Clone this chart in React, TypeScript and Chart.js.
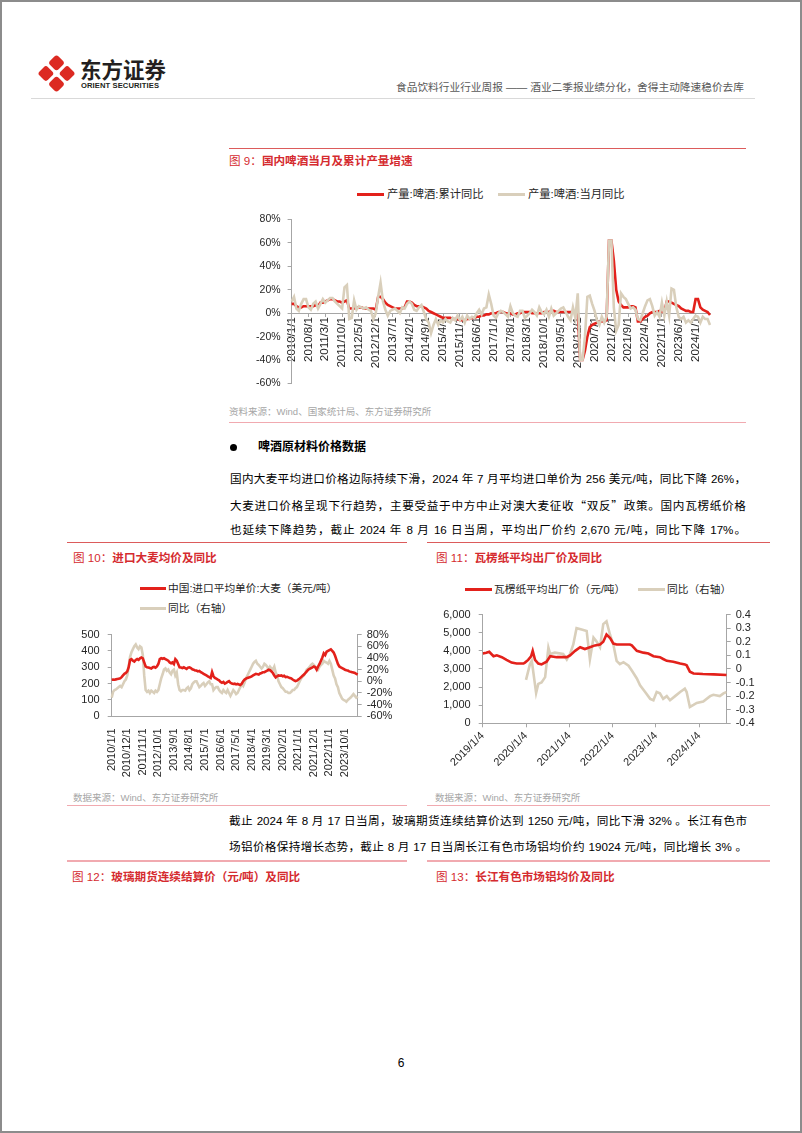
import React, { useEffect, useRef } from "react";
import { Chart, registerables } from "chart.js";
Chart.register(...registerables);

const RED = "#e3211b";
const BEIGE = "#d9cfbb";
const AXIS = "#a6a6a6";
const TITLE_RED = "#d52b2f";
const FONT = '"Liberation Sans", "Noto Sans CJK SC", sans-serif';

// ---------- category labels (monthly, 2010/1 .. 2024/7) ----------
const monthLabels: string[] = [];
for (let y = 2010; y <= 2024; y++) {
  for (let m = 1; m <= 12; m++) {
    if (y === 2024 && m > 7) break;
    monthLabels.push(`${y}/${m}/1`);
  }
}

// ---------- Fig 9: beer output yoy (%) ----------
const beerCumYoY = [
  8, 8, 6, 5, 5, 6, 6, 6, 6, 6, 7, 6,
  9, 9, 10, 11, 12, 12, 11, 10, 10, 9, 10, 11,
  4, 4, 4, 5, 5, 5, 4, 4, 4, 4, 4, 3,
  14, 14, 12, 9, 7, 6, 5, 4, 4, 4, 4, 5,
  10, 10, 9, 7, 6, 6, 6, 5, 4, 2, 1, 0,
  -1, -2, -3, -4, -4, -4, -4, -5, -5, -5, -6, -6,
  -6, -5, -5, -4, -4, -3, -3, -2, -2, -1, -1, 0,
  0, 0, 1, 1, 1, 0, 0, 0, -1, -1, 0, 0,
  1, 1, 1, 1, 0, 0, 0, 0, 0, 1, 1, 1,
  2, 2, 1, 1, 1, 1, 1, 1, 1, 1, 1, 1,
  -40, -40, -32, -20, -12, -10, -9, -8, -7, -7, -7, -6,
  62, 62, 45, 20, 10, 7, 5, 5, 5, 6, 6, 5,
  -7, -7, -5, -3, -2, 0, 1, 1, 1, 2, 1, 1,
  10, 10, 9, 8, 7, 6, 4, 3, 2, 2, 1, 1,
  12, 12, 5, 3, 2, 1, -1.5,
];
const beerMonthYoY = [
  10, 14, 4, 2, 8, 12, 12, 5, 3, 8, 10, 4,
  8, 12, 9, 11, 13, 13, 10, 8, 6, 4, 22, 24,
  -5, -4, 11, 3, 6, 5, 4, 5, 3, 2, -5, 0,
  14, 26, 10, 3, -2, 2, 3, 4, 2, 0, 5, 4,
  8, 10, 8, 3, 2, 5, 7, 1, -5, -8, -17, -10,
  -5, -10, -6, -8, -5, -7, -8, -4, -6, -2, -6, -3,
  -8, -2, -5, -3, -4, 0, 3, -1, 4, 5, 16, 8,
  -2, -4, 0, 2, 1, -1, -3, 6, 0, -2, -3, 2,
  2, -4, -2, 0, 3, 1, -2, 5, 1, -1, 3, -3,
  4, -2, 0, 2, 4, 5, 1, -3, -6, 5, -4, 17,
  -40, -40, -20, 14, 15, 8, 2, -6, -10, -3, -8, -3,
  62, 62, 5, -15, -10, 17, 14, 12, 8, 4, 5, 3,
  -5, -6, 0, 6, 11, 12, 6, -2, 1, -3, 9, -2,
  10, -2, 21, 20, 5, -3, -5, -3, -8, -6, -8, -5,
  -2, -3, -8, -3, -5, -5, -10,
];

// ---------- Fig 10: imported barley price (USD/t) & yoy (%) ----------
const barleyPrice = [
  224, 225, 224, 226, 228, 230, 232, 240, 250, 260, 265, 275,
  300, 345, 350, 340, 335, 345, 350, 345, 355, 360, 355, 330,
  305, 300, 298, 295, 292, 300, 302, 298, 305, 320, 350, 355,
  352, 355, 350, 345, 340, 330, 325, 330, 320, 350, 340, 320,
  300, 298, 295, 300, 295, 290, 298, 300, 295, 288, 285, 280,
  280, 275, 278, 270, 265, 260, 255, 250, 245, 240, 235, 270,
  245, 235, 230, 225, 220, 210, 205, 210, 200, 205, 210, 215,
  205, 200, 198, 200, 195, 198, 195, 192, 200, 215, 225, 230,
  235, 238, 240, 245, 250, 255, 260, 258, 255, 262, 265, 270,
  270, 275, 280, 285, 282, 275, 265, 250, 238, 245, 250, 248,
  250, 245, 248, 240, 242, 238, 235, 232, 225, 220, 215, 218,
  225, 232, 240, 248, 255, 265, 275, 285, 290, 295, 300, 305,
  300, 285, 305, 320, 340, 360, 385, 375, 395, 400, 405, 410,
  400, 390, 370, 345, 320, 305, 300, 295, 290, 285, 282, 280,
  275, 272, 270, 268, 265, 260, 256,
];
const barleyYoY = [
  -28, -18, -15, -14, -12, -10, -8, -10, -5, 0, 3, 10,
  25, 42, 50, 55, 60, 63, 58, 55, 60, 58, 45, 10,
  -15, -18, -16, -20, -16, -18, -20, -16, -18, -15, -5, 5,
  12, 20, 22, 18, 20, 15, 12, 18, 20, 10, 15, -5,
  -15, -17, -15, -15, -16, -12, -10, -15, -12, -5, -2, 0,
  0, -5, -10, -8, -5, -3, -8, -5, -2, 0, -5, -5,
  -15, -12, -10, -10, -15, -18, -20, -15, -18, -20, -15, -20,
  -25, -20, -15, -18, -22, -20, -15, -10, -5, -8, -2, 5,
  10, 15, 20, 25, 30, 33, 35, 30, 28, 25, 22, 25,
  30, 28, 25, 20, 25, 22, 20, 25, 15, 10, 0, -5,
  -10, -12, -15, -18, -18, -20, -20, -18, -15, -15, -12, -10,
  -5, 0, 5, 8, 10, 15, 20, 22, 25, 28, 30, 28,
  25, 22, 20, 25, 28, 30, 35, 33, 32, 30, 35, 30,
  20, 10, 5, -5, -10, -20, -25, -30, -32, -33, -35, -32,
  -30, -28, -25, -22, -25, -28, -26,
];

// ---------- Fig 11: corrugated paper price (CNY/t) & yoy ----------
// x = months after 2019/1/4
const paperX = [0, 1, 1.8, 3, 3.9, 5.3, 6.6, 8, 9.4, 11.3, 11.7, 12.6, 13.4, 13.85, 14.5, 15.4, 16.3, 17.7, 18.7, 20.5, 23.3, 24.2, 25.6, 27, 28.3, 29.7, 31.1, 32.5, 33.4, 34.3, 35.3, 36.2, 37.1, 40.8, 41.3, 42.7, 44.5, 45.9, 47.3, 49.1, 50, 51, 52.8, 54.7, 56, 56.5, 57.4, 58.4, 61, 64, 67.6];
const paperPrice = [3850, 3900, 3950, 3700, 3750, 3650, 3500, 3350, 3300, 3300, 3350, 3500, 3700, 4000, 3500, 3300, 3250, 3400, 3700, 3650, 3650, 3750, 4000, 4200, 4100, 4200, 4300, 4350, 4500, 4900, 4700, 4400, 4350, 4350, 4300, 4000, 3900, 3850, 3700, 3650, 3550, 3450, 3400, 3300, 3250, 3200, 2850, 2750, 2720, 2700, 2670];
const paperYoYX = [12, 13.1, 13.6, 14.8, 15.4, 16.3, 17.3, 18.2, 18.7, 20, 22.3, 23.3, 24.2, 25.1, 26, 27.4, 28.8, 29.7, 30.7, 31.6, 32.5, 33.4, 34.3, 35.3, 36.2, 37.1, 38, 39, 40.4, 41.3, 42.7, 43.6, 45, 46.4, 47.3, 48.2, 49.1, 50, 51, 51.9, 53.3, 54.7, 56, 56.5, 57.4, 58.4, 59.3, 61.1, 63, 63.9, 65.7, 66.7, 67.6];
const paperYoY = [-0.08, 0.036, 0.06, -0.176, -0.11, -0.1, -0.06, 0.157, 0.11, 0.12, 0.11, 0.07, 0.11, 0.18, 0.3, 0.29, 0.28, 0.07, 0.23, 0.2, 0.16, 0.33, 0.35, 0.25, 0.18, 0.06, 0.036, 0.05, 0.024, -0.012, -0.07, -0.12, -0.17, -0.22, -0.23, -0.17, -0.18, -0.22, -0.2, -0.23, -0.2, -0.17, -0.145, -0.17, -0.28, -0.265, -0.25, -0.24, -0.2, -0.19, -0.2, -0.18, -0.17];

// ---------- helpers ----------
const yGrid = { drawOnChartArea: false, drawTicks: true, tickLength: 4, color: AXIS, lineWidth: 1 };
const border = { color: AXIS, width: 1 };
const noPlug = { legend: { display: false }, tooltip: { enabled: false } };

function beerConfig(): any {
  return {
    type: "line",
    data: {
      labels: monthLabels,
      datasets: [
        { data: beerCumYoY, borderColor: RED, borderWidth: 2.6, pointRadius: 0, order: 1 },
        { data: beerMonthYoY, borderColor: BEIGE, borderWidth: 2.6, pointRadius: 0, order: 0 },
      ],
    },
    options: {
      animation: false,
      responsive: false,
      layout: { padding: { left: 0, top: 19.5, right: 36, bottom: 16.5 } },
      plugins: noPlug,
      scales: {
        x: {
          type: "category",
          position: { y: 0 },
          grid: { drawOnChartArea: false, drawTicks: true, tickLength: 3, color: AXIS },
          border,
          ticks: {
            autoSkip: false, minRotation: 90, maxRotation: 90, padding: 1,
            font: { size: 11.5 }, color: "#262626",
            callback: (_v: any, i: number) => (i % 7 === 0 ? monthLabels[i] : null),
          },
        },
        y: {
          min: -60, max: 80,
          grid: yGrid, border,
          ticks: { autoSkip: false, stepSize: 20, padding: 7, font: { size: 10.5 }, color: "#262626", callback: (v: number) => v + "%" },
          afterFit: (s: any) => { s.width = 63.6; },
        },
      },
    },
  };
}

function barleyConfig(): any {
  return {
    type: "line",
    data: {
      labels: monthLabels,
      datasets: [
        { data: barleyPrice, yAxisID: "y", borderColor: RED, borderWidth: 2.6, pointRadius: 0, order: 0 },
        { data: barleyYoY, yAxisID: "y1", borderColor: BEIGE, borderWidth: 2.6, pointRadius: 0, order: 1 },
      ],
    },
    options: {
      animation: false,
      responsive: false,
      layout: { padding: { left: 0, top: 10.3, right: 0, bottom: 0 } },
      plugins: noPlug,
      scales: {
        x: {
          grid: { display: false }, border,
          ticks: {
            autoSkip: false, minRotation: 90, maxRotation: 90, padding: 4,
            font: { size: 11 }, color: "#262626",
            callback: (_v: any, i: number) => (i % 11 === 0 ? monthLabels[i] : null),
          },
          afterFit: (s: any) => { s.height = 68.7; },
        },
        y: {
          position: "left", min: 0, max: 500, grid: yGrid, border,
          ticks: { autoSkip: false, stepSize: 100, padding: 8, font: { size: 11 }, color: "#262626" },
          afterFit: (s: any) => { s.width = 51.7; },
        },
        y1: {
          position: "right", min: -60, max: 80, grid: yGrid, border,
          ticks: { autoSkip: false, stepSize: 20, padding: 5, font: { size: 11 }, color: "#262626", callback: (v: number) => v + "%" },
          afterFit: (s: any) => { s.width = 47.3; },
        },
      },
    },
  };
}

function paperConfig(): any {
  return {
    type: "line",
    data: {
      datasets: [
        { data: paperX.map((x, i) => ({ x, y: paperPrice[i] })), yAxisID: "y", borderColor: RED, borderWidth: 2.6, pointRadius: 0, order: 0 },
        { data: paperYoYX.map((x, i) => ({ x, y: paperYoY[i] })), yAxisID: "y1", borderColor: BEIGE, borderWidth: 2.6, pointRadius: 0, order: 1 },
      ],
    },
    options: {
      animation: false,
      responsive: false,
      layout: { padding: { left: 0, top: 12.5, right: 0, bottom: 0 } },
      plugins: noPlug,
      scales: {
        x: {
          type: "linear", min: 0, max: 67.6,
          grid: { drawOnChartArea: false, drawTicks: true, tickLength: 4, color: AXIS }, border,
          ticks: {
            stepSize: 12, includeBounds: false, autoSkip: false, minRotation: 45, maxRotation: 45, padding: 2,
            font: { size: 11 }, color: "#262626",
            callback: (v: number) => (Math.abs(v % 12) < 1e-6 ? `${2019 + Math.round(v / 12)}/1/4` : null),
          },
          afterFit: (s: any) => { s.height = 56.7; },
        },
        y: {
          position: "left", min: 0, max: 6000, grid: yGrid, border,
          ticks: { autoSkip: false, stepSize: 1000, padding: 8, font: { size: 11 }, color: "#262626", callback: (v: number) => v.toLocaleString("en-US") },
          afterFit: (s: any) => { s.width = 52.7; },
        },
        y1: {
          position: "right", min: -0.4, max: 0.4, grid: yGrid, border,
          ticks: { autoSkip: false, stepSize: 0.1, padding: 5, font: { size: 11 }, color: "#262626", callback: (v: number) => (Math.abs(v) < 1e-9 ? "0" : v.toFixed(1)) },
          afterFit: (s: any) => { s.width = 43.3; },
        },
      },
    },
  };
}

// ---------- text helpers ----------
function Txt(props: { x: number; y: number; size: number; color?: string; weight?: number; align?: string; w?: number; children: any }) {
  const { x, y, size, color = "#000", weight = 400, align = "left", w } = props;
  const lh = Math.round(size * 1.4);
  const style: any = {
    position: "absolute", top: y - lh / 2, fontSize: size, lineHeight: lh + "px",
    color, fontWeight: weight, whiteSpace: "nowrap",
  };
  if (align === "right") style.right = 802 - x;
  else if (align === "center") { style.left = x - 50; style.width = 100; style.textAlign = "center"; }
  else style.left = x;
  if (w) { style.width = w; style.textAlign = "justify"; style.textAlignLast = "justify"; }
  return <div style={style}>{props.children}</div>;
}

function HLine({ x1, x2, y, color, h = 1 }: { x1: number; x2: number; y: number; color: string; h?: number }) {
  return <div style={{ position: "absolute", left: x1, top: y - h / 2, width: x2 - x1, height: h, background: color }} />;
}

function LegendMark({ x, y, color, w = 27 }: { x: number; y: number; color: string; w?: number }) {
  return <div style={{ position: "absolute", left: x, top: y - 1.5, width: w, height: 3, background: color }} />;
}

function FigTitle({ x, y, num, text }: { x: number; y: number; num: string; text: string }) {
  return (
    <Txt x={x} y={y} size={11.6} color={TITLE_RED}>
      <span>图 {num}：</span><span style={{ fontWeight: 700 }}>{text}</span>
    </Txt>
  );
}

const CJKQ = ({ c }: { c: string }) => <span style={{ fontFamily: '"Noto Sans CJK SC"' }}>{c}</span>;

export default function App() {
  const c9 = useRef<HTMLCanvasElement>(null);
  const c10 = useRef<HTMLCanvasElement>(null);
  const c11 = useRef<HTMLCanvasElement>(null);

  useEffect(() => {
    Chart.defaults.font.family = FONT;
    Chart.defaults.color = "#262626";
    const charts = [
      new Chart(c9.current as HTMLCanvasElement, beerConfig()),
      new Chart(c10.current as HTMLCanvasElement, barleyConfig()),
      new Chart(c11.current as HTMLCanvasElement, paperConfig()),
    ];
    return () => charts.forEach((c) => c.destroy());
  }, []);

  const bodySize = 11.6;
  const PINK = "#f1aab0";
  const LRED = "#dc5b5b";

  return (
    <div style={{ position: "absolute", left: 0, top: 0, width: 802, height: 1133, background: "#fff", fontFamily: FONT, overflow: "hidden" }}>
      {/* header */}
      <svg style={{ position: "absolute", left: 37, top: 55 }} width={40} height={38}>
        {[[-10.6, 0], [10.6, 0], [0, -10.6], [0, 10.6]].map(([dx, dy], i) => (
          <rect key={i} x={-6} y={-6} width={12} height={12} rx={3} fill="#dc2a22"
            transform={`translate(${19.5 + dx},${18.5 + dy}) rotate(45)`} />
        ))}
      </svg>
      <Txt x={80} y={70.5} size={21.5} weight={700} color="#231f20">东方证券</Txt>
      <div style={{ position: "absolute", left: 81, top: 81, fontSize: 7.6, lineHeight: "9px", fontWeight: 700, color: "#231f20", letterSpacing: 0.1, whiteSpace: "nowrap" }}>ORIENT SECURITIES</div>
      <Txt x={744} y={87} size={10.7} color="#595959" align="right">食品饮料行业行业周报 —— 酒业二季报业绩分化，舍得主动降速稳价去库</Txt>
      <HLine x1={31} x2={755} y={98.5} color="#d9d9d9" />

      {/* figure 9 */}
      <HLine x1={229} x2={746} y={148} color={LRED} />
      <FigTitle x={229} y={161} num="9" text="国内啤酒当月及累计产量增速" />
      <LegendMark x={357} y={194} color={RED} />
      <Txt x={387} y={194} size={11.3} color="#262626">产量:啤酒:累计同比</Txt>
      <LegendMark x={498} y={194} color={BEIGE} />
      <Txt x={528} y={194} size={11.3} color="#262626">产量:啤酒:当月同比</Txt>
      <canvas ref={c9} width={518} height={200} style={{ position: "absolute", left: 228, top: 200 }} />
      <Txt x={229} y={411.5} size={9.5} color="#a6a6a6">资料来源：Wind、国家统计局、东方证券研究所</Txt>
      <HLine x1={229} x2={746} y={422.5} color={PINK} h={1.5} />

      {/* section text */}
      <div style={{ position: "absolute", left: 230, top: 443.5, width: 7, height: 7, borderRadius: 4, background: "#000" }} />
      <Txt x={258} y={447} size={12} weight={700}>啤酒原材料价格数据</Txt>
      <Txt x={230} y={479} size={bodySize} w={516}>国内大麦平均进口价格边际持续下滑，2024 年 7 月平均进口单价为 256 美元/吨，同比下降 26%，</Txt>
      <Txt x={230} y={505} size={bodySize} w={516}>大麦进口价格呈现下行趋势，主要受益于中方中止对澳大麦征收<CJKQ c="“" />双反<CJKQ c="”" />政策。国内瓦楞纸价格</Txt>
      <Txt x={230} y={530} size={bodySize} w={516}>也延续下降趋势，截止 2024 年 8 月 16 日当周，平均出厂价约 2,670 元/吨，同比下降 17%。</Txt>

      {/* figure 10 */}
      <HLine x1={67} x2={407} y={542.5} color={LRED} />
      <FigTitle x={73} y={558} num="10" text="进口大麦均价及同比" />
      <LegendMark x={140} y={588} color={RED} w={26} />
      <Txt x={168} y={588} size={10.7} color="#262626">中国:进口平均单价:大麦（美元/吨）</Txt>
      <LegendMark x={140} y={608} color={BEIGE} w={26} />
      <Txt x={168} y={608} size={10.7} color="#262626">同比（右轴）</Txt>
      <canvas ref={c10} width={345} height={165} style={{ position: "absolute", left: 60, top: 620 }} />
      <Txt x={73} y={797} size={9.5} color="#a6a6a6">数据来源：Wind、东方证券研究所</Txt>
      <HLine x1={67} x2={407} y={805.5} color={PINK} h={1.5} />

      {/* figure 11 */}
      <HLine x1={427} x2={770} y={542.5} color={LRED} />
      <FigTitle x={436} y={558} num="11" text="瓦楞纸平均出厂价及同比" />
      <LegendMark x={465} y={589} color={RED} />
      <Txt x={494} y={589} size={10.7} color="#262626">瓦楞纸平均出厂价（元/吨）</Txt>
      <LegendMark x={638} y={589} color={BEIGE} />
      <Txt x={667} y={589} size={10.7} color="#262626">同比（右轴）</Txt>
      <canvas ref={c11} width={340} height={180} style={{ position: "absolute", left: 430, top: 600 }} />
      <Txt x={435} y={797} size={9.5} color="#a6a6a6">数据来源：Wind、东方证券研究所</Txt>
      <HLine x1={427} x2={770} y={805.5} color={PINK} h={1.5} />

      {/* lower text */}
      <Txt x={229} y={821} size={bodySize} w={518}>截止 2024 年 8 月 17 日当周，玻璃期货连续结算价达到 1250 元/吨，同比下滑 32% 。长江有色市</Txt>
      <Txt x={229} y={846.5} size={bodySize} w={518}>场铝价格保持增长态势，截止 8 月 17 日当周长江有色市场铝均价约 19024 元/吨，同比增长 3% 。</Txt>
      <HLine x1={67} x2={407} y={861} color={PINK} h={1.5} />
      <HLine x1={427} x2={770} y={861} color={PINK} h={1.5} />
      <FigTitle x={72} y={877} num="12" text="玻璃期货连续结算价（元/吨）及同比" />
      <FigTitle x={436} y={877} num="13" text="长江有色市场铝均价及同比" />

      {/* page number */}
      <Txt x={401} y={1063} size={12} align="center">6</Txt>

      {/* page border */}
      <div style={{ position: "absolute", left: 0, top: 0, width: 802, height: 1133, boxSizing: "border-box", border: "2px solid #8c8c8c", pointerEvents: "none" }} />
    </div>
  );
}
